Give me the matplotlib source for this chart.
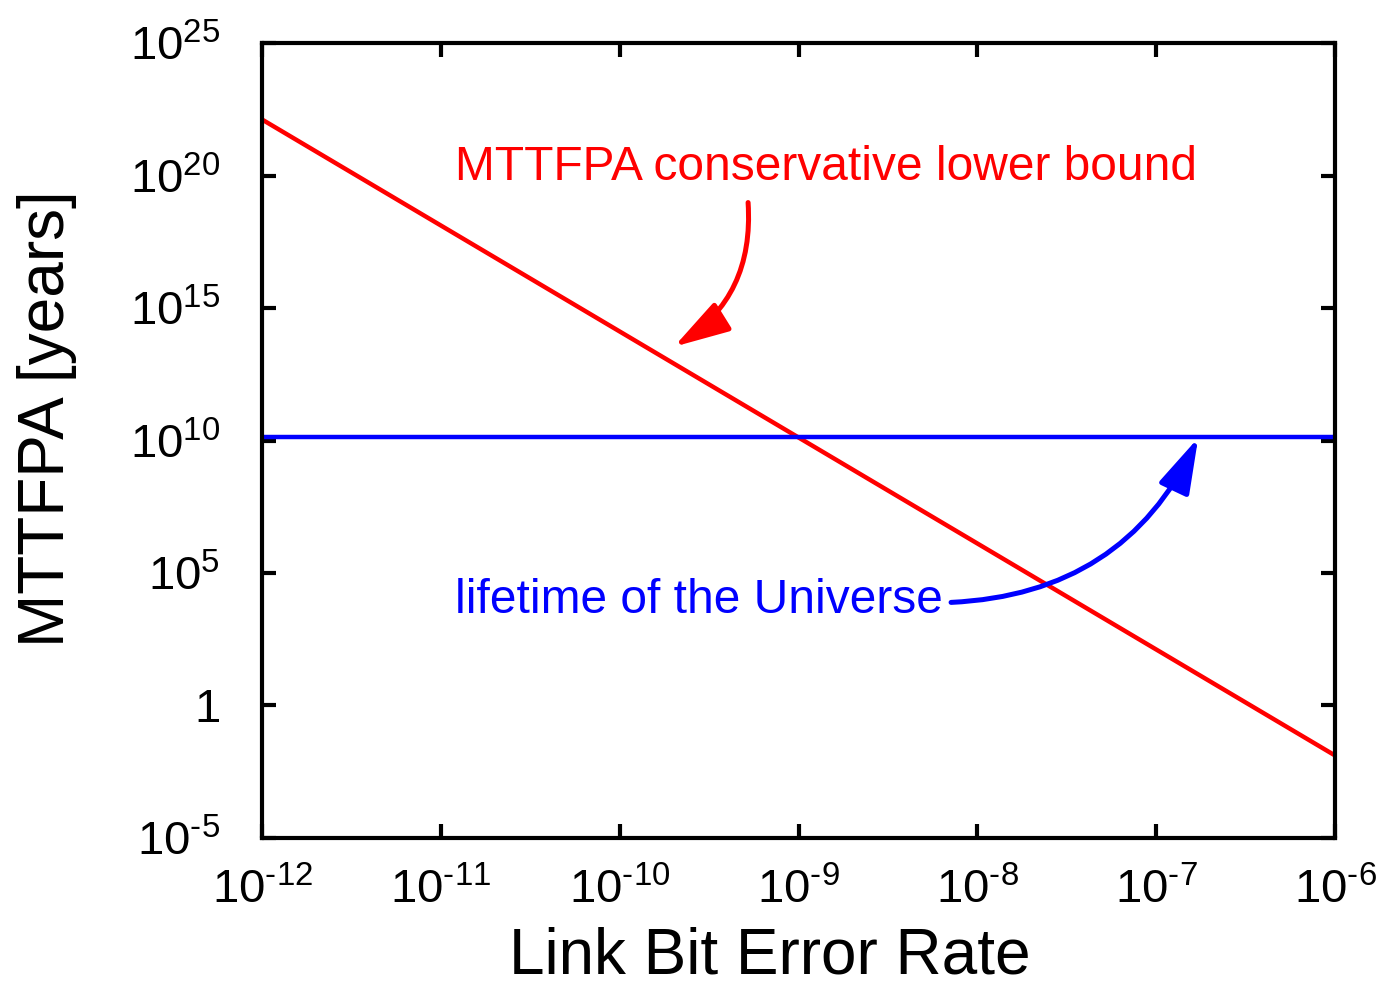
import matplotlib
matplotlib.use("Agg")
import matplotlib.pyplot as plt
import matplotlib.ticker as ticker

plt.rcParams['font.family'] = ['Liberation Sans', 'DejaVu Sans']
plt.rcParams['mathtext.fontset'] = 'custom'
plt.rcParams['mathtext.rm'] = 'Liberation Sans'
plt.rcParams['mathtext.it'] = 'Liberation Sans:italic'
plt.rcParams['mathtext.bf'] = 'Liberation Sans:bold'

# data
ber = [1e-12, 1e-6]
mttfpa_bound = [1.3e22, 1.3e-2]
universe_age = [1.38e10, 1.38e10]

xticks = [1e-12, 1e-11, 1e-10, 1e-9, 1e-8, 1e-7, 1e-6]
xticklabels = [r'$\mathrm{10^{\text{-}12}}$', r'$\mathrm{10^{\text{-}11}}$', r'$\mathrm{10^{\text{-}10}}$',
               r'$\mathrm{10^{\text{-}9}}$', r'$\mathrm{10^{\text{-}8}}$', r'$\mathrm{10^{\text{-}7}}$',
               r'$\mathrm{10^{\text{-}6}}$']
yticks = [1e-5, 1, 1e5, 1e10, 1e15, 1e20, 1e25]
yticklabels = [r'$\mathrm{10^{\text{-}5}}$', '1', r'$\mathrm{10^{5}}$', r'$\mathrm{10^{10}}$',
               r'$\mathrm{10^{15}}$', r'$\mathrm{10^{20}}$', r'$\mathrm{10^{25}}$']

fig = plt.figure(figsize=(13.82, 9.89), dpi=100)
ax = fig.add_axes([0.1896, 0.1527, 0.7764, 0.8038])

ax.plot(ber, mttfpa_bound, color='#ff0000', lw=3.2, solid_capstyle='butt')
ax.plot(ber, universe_age, color='#0000ff', lw=3.2, solid_capstyle='butt')

ax.set_xscale('log')
ax.set_yscale('log')
ax.set_xlim(1e-12, 1e-6)
ax.set_ylim(1e-5, 1e25)

ax.set_xticks(xticks)
ax.set_xticklabels(xticklabels)
ax.set_yticks(yticks)
ax.set_yticklabels(yticklabels)
ax.xaxis.set_minor_locator(ticker.NullLocator())
ax.yaxis.set_minor_locator(ticker.NullLocator())

ax.tick_params(which='major', direction='in', length=10, width=3,
               top=True, right=True, labelsize=34)
ax.tick_params(axis='x', pad=22)
ax.tick_params(axis='y', pad=30)
for s in ax.spines.values():
    s.set_linewidth(3)

ax.set_xlabel('Link Bit Error Rate', fontsize=46)
ax.xaxis.set_label_coords(0.473, -0.111)
ax.set_ylabel('MTTFPA [years]', fontsize=46)
ax.yaxis.set_label_coords(-0.172, 0.528)

# annotations
ax.text(10**-10.92, 10**20.3, 'MTTFPA conservative lower bound', color='#ff0000',
        fontsize=34.5, ha='left', va='center')
ax.annotate('', xy=(10**-9.696, 10**13.54), xytext=(10**-9.282, 10**18.98),
            arrowprops=dict(arrowstyle='-|>,head_length=1.7,head_width=0.5', color='#ff0000',
                            lw=3.6, connectionstyle='arc3,rad=-0.3', shrinkA=0, shrinkB=0,
                            mutation_scale=20))

ax.text(10**-10.92, 10**3.95, 'lifetime of the Universe', color='#0000ff',
        fontsize=34.5, ha='left', va='center')
ax.annotate('', xy=(10**-6.765, 10**10.1), xytext=(10**-8.147, 10**3.89),
            arrowprops=dict(arrowstyle='-|>,head_length=1.7,head_width=0.5', color='#0000ff',
                            lw=3.6, connectionstyle='arc3,rad=0.3', shrinkA=0, shrinkB=0,
                            mutation_scale=20))

fig.savefig('out.png', dpi=100)
